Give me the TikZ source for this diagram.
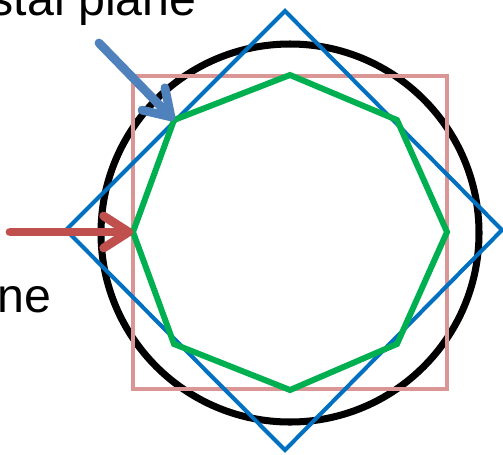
\documentclass[tikz,border=0pt]{standalone}
\usepackage{fontspec}
\setmainfont{Liberation Sans}
\usetikzlibrary{arrows.meta}
\definecolor{circblk}{HTML}{000000}
\definecolor{sqpink}{HTML}{D99694}
\definecolor{dmblue}{HTML}{0070C0}
\definecolor{octgreen}{HTML}{00B050}
\definecolor{arrblue}{HTML}{4F81BD}
\definecolor{arrred}{HTML}{C0504D}
\tikzset{
  lbl/.style={inner sep=0pt,font=\fontsize{27.5}{32}\selectfont},
  fatarrow/.style={line width=5pt,line cap=round,
    -{Straight Barb[length=0.5cm,width=0.64cm,line cap=round,line join=round]}}
}

\begin{document}
\begin{tikzpicture}[x=0.02cm,y=-0.02cm]
\useasboundingbox (0,0) rectangle (503,454);
% 外圆
\draw[circblk,line width=4pt] (290,233) circle (189);
% 正方形
\draw[sqpink,line width=2.8pt] (133,76) rectangle (447,389);
% 菱形
\draw[dmblue,line width=2.3pt] (285,11) -- (502,230) -- (285,450) -- (66,230) -- cycle;
% 八边形顶点
\coordinate (o1) at (290,75);
\coordinate (o2) at (397,120);
\coordinate (o3) at (447,232);
\coordinate (o4) at (397,344);
\coordinate (o5) at (290,390);
\coordinate (o6) at (174,344);
\coordinate (o7) at (133,232);
\coordinate (o8) at (174,120);
\draw[octgreen,line width=3.4pt] (o1) -- (o2) -- (o3) -- (o4) -- (o5) -- (o6) -- (o7) -- (o8) -- cycle;
% 标注文字
\node[lbl,anchor=base east] (topname) at (197,15) {stal plane};
\node[lbl,anchor=base west] (leftname) at (-3,312) {ne};
% 箭头
\coordinate (bluetail) at (99,43);
\coordinate (redtail) at (10,232);
\draw[fatarrow,arrblue] (bluetail) -- (o8);
\draw[fatarrow,arrred] (redtail) -- (o7);
\end{tikzpicture}
\end{document}
